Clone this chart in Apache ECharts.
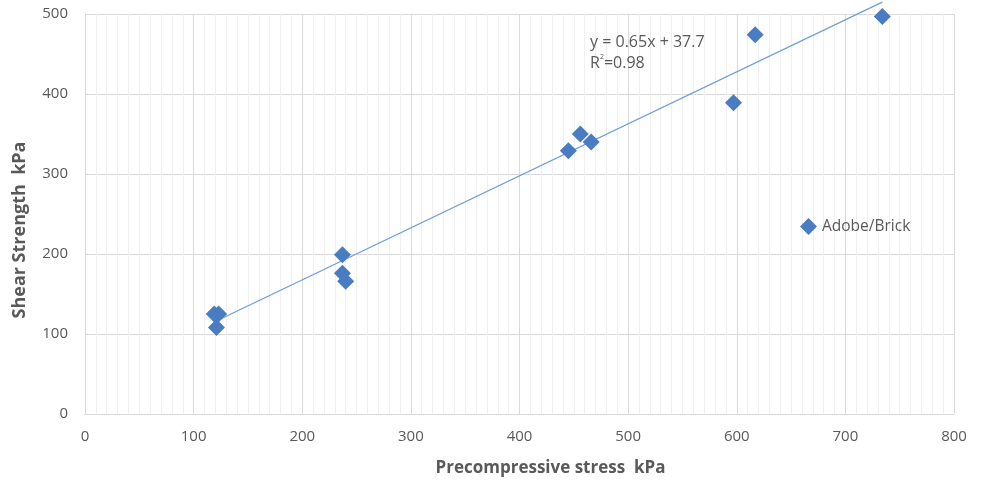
<!DOCTYPE html>
<html><head><meta charset="utf-8">
<script src="https://cdn.jsdelivr.net/npm/echarts@6/dist/echarts.min.js"></script>
<style>html,body{margin:0;padding:0;background:#fff}#c{width:985px;height:484px}</style>
</head><body><div id="c"></div>
<script>
const seriesName = 'Adobe/Brick';
const stressKPa = [119, 123, 121, 237, 237, 240, 445, 456, 466, 597, 617, 734];
const shearKPa  = [125, 125, 108, 199, 176, 166, 329, 350, 340, 389, 474, 497];
const trendSlope = 0.65;
const trendIntercept = 37.7;
const xTicks = [0, 100, 200, 300, 400, 500, 600, 700, 800];
const yTicks = [0, 100, 200, 300, 400, 500];

const pts = stressKPa.map((x, i) => [x, shearKPa[i]]);
const xMin = Math.min(...stressKPa), xMax = Math.max(...stressKPa);
const trend = [[xMin, trendSlope * xMin + trendIntercept], [xMax, trendSlope * xMax + trendIntercept]];

const font = 'Open Sans';
const grey = '#595959';
const chart = echarts.init(document.getElementById('c'));
chart.setOption({
  animation: false,
  textStyle: { fontFamily: font },
  grid: { left: 85, right: 31, top: 14, bottom: 70 },
  legend: {
    data: [{ name: seriesName, icon: 'diamond' }],
    left: 795, top: 213, itemWidth: 17, itemHeight: 17, itemGap: 4,
    textStyle: { fontFamily: font, fontSize: 15.5, color: grey }
  },
  xAxis: {
    type: 'value', min: xTicks[0], max: xTicks[xTicks.length - 1], interval: 100,
    name: 'Precompressive stress  kPa', nameLocation: 'middle', nameGap: 46,
    nameTextStyle: { fontFamily: font, fontSize: 17, fontWeight: 'bold', color: grey, padding: [0, 0, 0, 62] },
    axisLine: { show: true, lineStyle: { color: '#d9d9d9' } },
    axisTick: { show: false },
    axisLabel: { fontSize: 15, color: grey, margin: 15 },
    splitLine: { show: true, lineStyle: { color: '#d9d9d9' } },
    minorTick: { show: false, splitNumber: 10 },
    minorSplitLine: { show: true, lineStyle: { color: '#f0f0f0' } }
  },
  yAxis: {
    type: 'value', min: yTicks[0], max: yTicks[yTicks.length - 1], interval: 100,
    name: 'Shear Strength  kPa', nameLocation: 'middle', nameGap: 56,
    nameTextStyle: { fontFamily: font, fontSize: 18, fontWeight: 'bold', color: grey, padding: [0, 32, 0, 0] },
    axisLine: { show: true, lineStyle: { color: '#d9d9d9' } },
    axisTick: { show: false },
    axisLabel: { fontSize: 15, color: grey, margin: 17 },
    splitLine: { show: true, lineStyle: { color: '#d9d9d9' } }
  },
  series: [
    {
      name: 'trend', type: 'line', data: trend, symbol: 'none', clip: false,
      lineStyle: { color: '#6F9FD8', width: 1.2 }, z: 1, silent: true
    },
    {
      name: seriesName, type: 'scatter', data: pts, symbol: 'diamond', symbolSize: 17,
      itemStyle: { color: '#4A7CC2', opacity: 1 }, z: 3
    }
  ],
  graphic: [{
    type: 'text', left: 590, top: 32, z: 100,
    style: {
      text: 'y = 0.65x + 37.7\n{r|R}{s|2}{r|=0.98}',
      fontFamily: font, fontSize: 16, fill: grey, lineHeight: 21,
      rich: {
        r: { fontFamily: font, fontSize: 16, color: grey, lineHeight: 21 },
        s: { fontFamily: font, fontSize: 7, color: grey, verticalAlign: 'top', lineHeight: 12 }
      }
    }
  }]
});
</script></body></html>
